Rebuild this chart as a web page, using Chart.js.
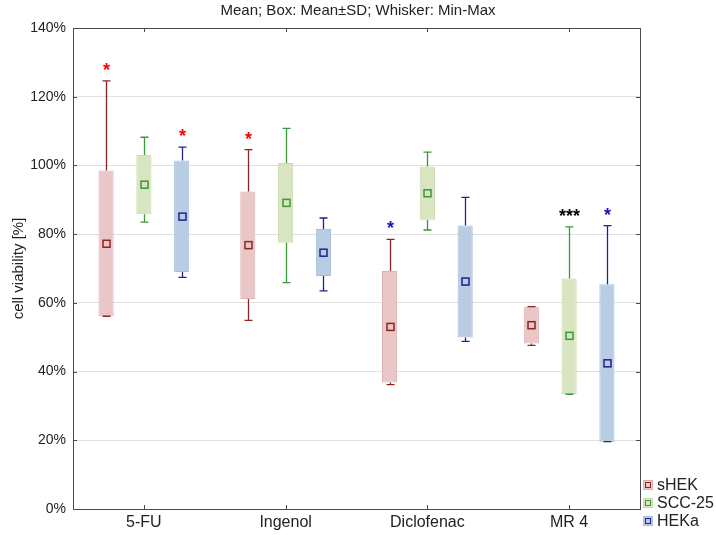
<!DOCTYPE html>
<html>
<head>
<meta charset="utf-8">
<script src="https://cdn.jsdelivr.net/npm/chart.js@4.4.1/dist/chart.umd.min.js"></script>
<style>
  body { margin: 0; background: #fff; }
  #wrap { width: 716px; height: 535px; }
</style>
</head>
<body>
<div id="wrap"><canvas id="myChart" width="716" height="535"></canvas></div>
<script>
// categories and tick labels
var categories = ['5-FU', 'Ingenol', 'Diclofenac', 'MR 4'];
var yTicks = [0, 20, 40, 60, 80, 100, 120, 140];
var chartTitle = 'Mean; Box: Mean±SD; Whisker: Min-Max';

// sHEK
var sHEK_mean = [77.2, 76.8, 53.0, 53.5];
var sHEK_boxLow = [56.1, 61.1, 36.8, 48.2];
var sHEK_boxHigh = [98.5, 92.4, 69.3, 58.9];
var sHEK_min = [56.1, 54.9, 36.2, 47.6];
var sHEK_max = [124.6, 104.6, 78.5, 58.9];
var sHEK_marks = ['*', '*', '*', ''];
var sHEK_markColors = ['#ff0000', '#ff0000', '#1515c8', '#000'];

// SCC-25
var scc_mean = [94.4, 89.1, 91.9, 50.4];
var scc_boxLow = [85.8, 77.5, 84.2, 33.5];
var scc_boxHigh = [103.0, 100.7, 99.7, 67.1];
var scc_min = [83.5, 65.9, 81.2, 33.4];
var scc_max = [108.2, 110.8, 103.9, 82.1];
var scc_marks = ['', '', '', '***'];
var scc_markColors = ['#000', '#000', '#000', '#000'];

// HEKa
var heka_mean = [85.1, 74.6, 66.2, 42.4];
var heka_boxLow = [69.0, 67.8, 49.9, 19.6];
var heka_boxHigh = [101.4, 81.5, 82.5, 65.4];
var heka_min = [67.4, 63.5, 48.8, 19.6];
var heka_max = [105.3, 84.7, 90.7, 82.5];
var heka_marks = ['*', '', '', '*'];
var heka_markColors = ['#ff0000', '#000', '#000', '#1515c8'];

Chart.defaults.font.family = '"Liberation Sans", Arial, sans-serif';
Chart.defaults.color = '#222';

function makeSet(label, lo, hi, mean, mn, mx, marks, markColors, fill, edge, line) {
  return {
    label: label,
    data: lo.map(function (v, i) { return [v, hi[i]]; }),
    backgroundColor: fill,
    borderColor: edge,
    borderWidth: 1,
    borderSkipped: false,
    mean: mean, min: mn, max: mx,
    marks: marks, markColors: markColors,
    lineColor: line
  };
}

// whiskers, mean squares, asterisks, frame, legend, title
var boxPlugin = {
  id: 'boxPlugin',
  afterDatasetsDraw: function (chart) {
    var c = chart.ctx, ys = chart.scales.y, xs = chart.scales.x, a = chart.chartArea;
    chart.data.datasets.forEach(function (ds, di) {
      var meta = chart.getDatasetMeta(di);
      meta.data.forEach(function (bar, i) {
        var x = Math.round(bar.x) + 0.5;
        var yMax = ys.getPixelForValue(ds.max[i]);
        var yMin = ys.getPixelForValue(ds.min[i]);
        var yHi = ys.getPixelForValue(ds.data[i][1]);
        var yLo = ys.getPixelForValue(ds.data[i][0]);
        var yMean = ys.getPixelForValue(ds.mean[i]);
        c.save();
        c.strokeStyle = ds.lineColor;
        c.lineWidth = 1.3;
        c.beginPath();
        c.moveTo(x, yHi); c.lineTo(x, yMax);
        c.moveTo(x - 4, yMax); c.lineTo(x + 4, yMax);
        c.moveTo(x, yLo); c.lineTo(x, yMin);
        c.moveTo(x - 4, yMin); c.lineTo(x + 4, yMin);
        c.stroke();
        c.lineWidth = 1.5;
        c.strokeRect(x - 3.5, yMean - 3.5, 7, 7);
        if (ds.marks[i]) {
          c.fillStyle = ds.markColors[i];
          c.font = 'bold 18px "Liberation Sans", Arial, sans-serif';
          c.textAlign = 'center';
          c.textBaseline = 'alphabetic';
          c.fillText(ds.marks[i], x, yMax - 5);
        }
        c.restore();
      });
    });

    // frame with inward ticks
    c.save();
    c.strokeStyle = '#4a4a4a';
    c.lineWidth = 1;
    c.strokeRect(Math.round(a.left) + 0.5, Math.round(a.top) + 0.5,
      Math.round(a.right - a.left), Math.round(a.bottom - a.top));
    c.beginPath();
    yTicks.forEach(function (v) {
      var y = Math.round(ys.getPixelForValue(v)) + 0.5;
      c.moveTo(a.left, y); c.lineTo(a.left + 4, y);
      c.moveTo(a.right, y); c.lineTo(a.right - 4, y);
    });
    categories.forEach(function (cat, i) {
      var x = Math.round(xs.getPixelForValue(i)) + 0.5;
      c.moveTo(x, a.top); c.lineTo(x, a.top + 4);
      c.moveTo(x, a.bottom); c.lineTo(x, a.bottom - 4);
    });
    c.stroke();

    // title centred on the whole canvas
    c.fillStyle = '#222';
    c.font = '15px "Liberation Sans", Arial, sans-serif';
    c.textAlign = 'center';
    c.textBaseline = 'middle';
    c.fillText(chartTitle, chart.width / 2, 11);

    // legend, bottom right
    var lx = Math.round(a.right) + 3, rows = [485, 503, 521];
    chart.data.datasets.forEach(function (ds, di) {
      var cy = rows[di];
      c.fillStyle = ds.backgroundColor;
      c.fillRect(lx, cy - 5, 10, 10);
      c.strokeStyle = ds.borderColor;
      c.lineWidth = 1;
      c.strokeRect(lx + 0.5, cy - 4.5, 9, 9);
      c.strokeStyle = ds.lineColor;
      c.strokeRect(lx + 2.5, cy - 2.5, 5, 5);
      c.fillStyle = '#222';
      c.font = '16px "Liberation Sans", Arial, sans-serif';
      c.textAlign = 'left';
      c.textBaseline = 'middle';
      c.fillText(ds.label, lx + 14, cy + 1);
    });
    c.restore();
  }
};

var ctx = document.getElementById('myChart');

var graphData = {
  type: 'bar',
  data: {
    labels: categories,
    datasets: [
      makeSet('sHEK', sHEK_boxLow, sHEK_boxHigh, sHEK_mean, sHEK_min, sHEK_max, sHEK_marks, sHEK_markColors,
        '#eac6c6', '#dcb0b0', '#8e2424'),
      makeSet('SCC-25', scc_boxLow, scc_boxHigh, scc_mean, scc_min, scc_max, scc_marks, scc_markColors,
        '#d8e5c0', '#c9d9ad', '#3a983a'),
      makeSet('HEKa', heka_boxLow, heka_boxHigh, heka_mean, heka_min, heka_max, heka_marks, heka_markColors,
        '#b8cce4', '#a7bedb', '#22228a')
    ]
  },
  options: {
    responsive: false,
    animation: false,
    categoryPercentage: 0.8,
    barPercentage: 0.4,
    layout: { padding: { left: 0, right: 76, top: 28, bottom: 0 } },
    plugins: {
      legend: { display: false },
      tooltip: { enabled: false },
      title: { display: false }
    },
    scales: {
      x: {
        grid: { display: false, drawTicks: false },
        border: { display: false },
        ticks: { font: { size: 16 }, color: '#222', padding: 4 },
        afterFit: function (s) { s.height = 26; }
      },
      y: {
        min: 0,
        max: 140,
        grid: { color: '#e0e0e0', drawTicks: false },
        border: { display: false },
        ticks: {
          stepSize: 20,
          font: { size: 14 },
          color: '#222',
          padding: 7,
          callback: function (v) { return v + '%'; }
        },
        title: {
          display: true,
          text: 'cell viability [%]',
          font: { size: 15 },
          color: '#222',
          padding: { top: 10, bottom: 0 }
        },
        afterFit: function (s) { s.width = 73; }
      }
    }
  },
  plugins: [boxPlugin]
};

var myChart = new Chart(ctx, graphData);
</script>
</body>
</html>
